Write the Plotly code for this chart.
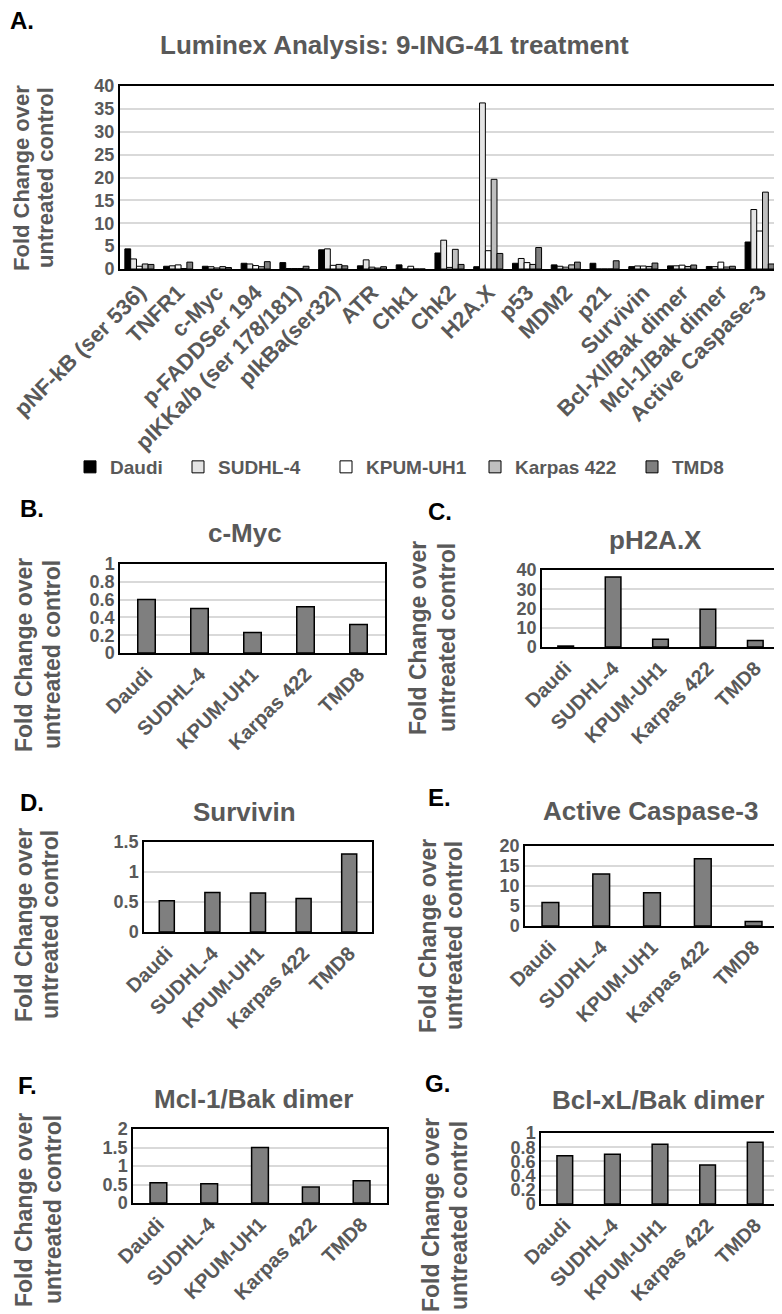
import plotly.graph_objects as go

# page body has an 8px margin; figure size chosen to fit the 782x1314 window
OFF = 8
W, H = 782 - OFF, 1314 - OFF

markers = ["pNF-kB (ser 536)", "TNFR1", "c-Myc", "p-FADDSer 194", "pIKKa/b (ser 178/181)",
           "pIkBa(ser32)", "ATR", "Chk1", "Chk2", "H2A.X", "p53", "MDM2", "p21", "Survivin",
           "Bcl-Xl/Bak dimer", "Mcl-1/Bak dimer", "Active Caspase-3"]
cell_lines = ["Daudi", "SUDHL-4", "KPUM-UH1", "Karpas 422", "TMD8"]

daudi = [4.4, 0.6, 0.6, 1.25, 1.4, 4.2, 0.7, 0.9, 3.5, 0.5, 1.25, 0.9, 1.25, 0.52, 0.68, 0.55, 5.9]
sudhl4 = [2.2, 0.7, 0.5, 1.1, 0.1, 4.4, 2.0, 0.0, 6.3, 36.3, 2.3, 0.6, 0.0, 0.66, 0.7, 0.52, 13.0]
kpum = [0.6, 0.9, 0.23, 0.75, 0.1, 0.8, 0.4, 0.6, 0.35, 4.0, 1.4, 0.4, 0.0, 0.65, 0.84, 1.5, 8.3]
karpas = [1.1, 0.1, 0.52, 0.5, 0.1, 1.0, 0.2, 0.0, 4.3, 19.6, 1.0, 0.9, 0.0, 0.56, 0.55, 0.43, 16.8]
tmd8 = [1.0, 1.5, 0.32, 1.6, 0.6, 0.7, 0.5, 0.0, 1.0, 3.4, 4.7, 1.5, 1.8, 1.3, 0.87, 0.6, 1.1]

series = [daudi, sudhl4, kpum, karpas, tmd8]
series_colors = ["#000000", "#e4e4e4", "#ffffff", "#bfbfbf", "#7f7f7f"]

# single-marker panels (values per cell line)
cmyc = [0.6, 0.5, 0.23, 0.52, 0.32]
ph2ax = [0.5, 36.3, 4.0, 19.6, 3.4]
survivin = [0.52, 0.66, 0.65, 0.56, 1.3]
caspase3 = [5.9, 13.0, 8.3, 16.8, 1.1]
mcl1_bak = [0.55, 0.52, 1.5, 0.43, 0.6]
bclxl_bak = [0.68, 0.7, 0.84, 0.55, 0.87]

YT1, YT2 = "Fold Change over", "untreated control"

GRAY = "#595959"
FONT = "Liberation Sans, Arial, sans-serif"


def px(x):
    return (x - OFF) / W


def py(y):
    return 1 - (y - OFF) / H


def dx(l, r):
    return [px(l), px(r)]


def dy(t, b):
    return [py(b), py(t)]


annotations = []


def add_text(text, x, y, size, color=GRAY, angle=0, xanchor="center"):
    annotations.append(dict(text=text, x=px(x), y=py(y), xref="paper", yref="paper",
                            xanchor=xanchor, yanchor="middle", textangle=angle, showarrow=False,
                            font=dict(family=FONT, size=size, color=color, weight="bold")))


def add_ytitle(x1, x2, y, size=23):
    add_text(YT1, x1, y, size, angle=-90)
    add_text(YT2, x2, y, size, angle=-90)


fig = go.Figure()

# ---- Panel A: grouped bars ----
bw = 0.15
for i, (name, vals, col) in enumerate(zip(cell_lines, series, series_colors)):
    fig.add_trace(go.Bar(
        x=markers, y=vals, name=name, width=bw, offset=-0.375 + i * bw,
        marker=dict(color=col, line=dict(color="#000000", width=1)),
        xaxis="x", yaxis="y", legend="legend" if i == 0 else f"legend{i+1}",
    ))

# ---- Small panels ----
panels = [
    (cmyc, 2, (120, 385), (564, 653), 0.2, 1.0, "c-Myc", (245, 533), "B.", (18, 509), (24, 52, 655)),
    (ph2ax, 3, (542, 779), (570, 647), 10, 40, "pH2A.X", (655, 540), "C.", (426, 511), (418, 447, 638)),
    (survivin, 4, (144, 372), (842, 932), 0.5, 1.5, "Survivin", (244, 812), "D.", (18, 802), (24, 50, 925)),
    (caspase3, 5, (525, 779), (846, 926), 5, 20, "Active Caspase-3", (650, 811), "E.", (426, 797), (428, 454, 936)),
    (mcl1_bak, 6, (133, 387), (1129, 1203), 0.5, 2.0, "Mcl-1/Bak dimer", (253, 1099), "F.", (16, 1085), (24, 53, 1210)),
    (bclxl_bak, 7, (541, 779), (1133, 1204), 0.2, 1.0, "Bcl-xL/Bak dimer", (658, 1100), "G.", (423, 1083), (431, 459, 1215)),
]

layout_axes = {}

for vals, k, xd, yd, dt, ymax, title, tpos, letter, lpos, ypos in panels:
    fig.add_trace(go.Bar(
        x=cell_lines, y=vals, width=0.33, offset=-0.165, showlegend=False,
        marker=dict(color="#7f7f7f", line=dict(color="#000000", width=1.5)),
        xaxis=f"x{k}", yaxis=f"y{k}",
    ))
    layout_axes[f"xaxis{k}"] = dict(
        domain=dx(*xd), anchor=f"y{k}", showline=True, mirror=True, linecolor="#000000",
        linewidth=1.5, showgrid=False, tickangle=-45, ticks="", automargin=False,
        tickfont=dict(family=FONT, size=20, color=GRAY, weight="bold"),
        range=[-0.5, 4.5], fixedrange=True,
    )
    layout_axes[f"yaxis{k}"] = dict(
        domain=dy(*yd), anchor=f"x{k}", showline=True, mirror=True, linecolor="#000000",
        linewidth=1.5, showgrid=True, gridcolor="#d9d9d9", gridwidth=1.5, zeroline=False,
        range=[0, ymax], dtick=dt, tick0=0, ticks="", automargin=False,
        tickfont=dict(family=FONT, size=18, color=GRAY, weight="bold"),
    )
    add_text(title, tpos[0], tpos[1], 26)
    add_text(letter, lpos[0], lpos[1], 24, color="#000000", xanchor="left")
    add_ytitle(*ypos)

# Panel A texts
add_text("A.", 8, 21, 24, color="#000000", xanchor="left")
add_text("Luminex Analysis: 9-ING-41 treatment", 394, 45, 26)
add_ytitle(22, 46, 178, size=22)

legend_text_x = [103, 211, 359, 508, 665]
legends = {}
for i, tx in enumerate(legend_text_x):
    key = "legend" if i == 0 else f"legend{i+1}"
    legends[key] = dict(x=px(tx - 33), y=py(467), xanchor="left", yanchor="middle",
                        orientation="h", bgcolor="rgba(0,0,0,0)", borderwidth=0,
                        font=dict(family=FONT, size=19, color=GRAY, weight="bold"))

fig.update_layout(
    template="none",
    width=W, height=H, margin=dict(l=0, r=0, t=0, b=0, autoexpand=False),
    paper_bgcolor="#ffffff", plot_bgcolor="#ffffff",
    barmode="overlay", showlegend=True,
    xaxis=dict(domain=dx(120, 779), anchor="y", showline=True, mirror=True, linecolor="#000000",
               linewidth=2, showgrid=False, tickangle=-45, ticks="", range=[-0.5, 16.5],
               automargin=False,
               tickfont=dict(family=FONT, size=22, color=GRAY, weight="bold")),
    yaxis=dict(domain=dy(86, 269), anchor="x", showline=True, mirror=True, linecolor="#000000",
               linewidth=2, showgrid=True, gridcolor="#d9d9d9", gridwidth=1.5, zeroline=False,
               range=[0, 40], dtick=5, ticks="", automargin=False,
               tickfont=dict(family=FONT, size=18, color=GRAY, weight="bold")),
    annotations=annotations,
    **layout_axes,
    **legends,
)

fig.write_html("out.html")
